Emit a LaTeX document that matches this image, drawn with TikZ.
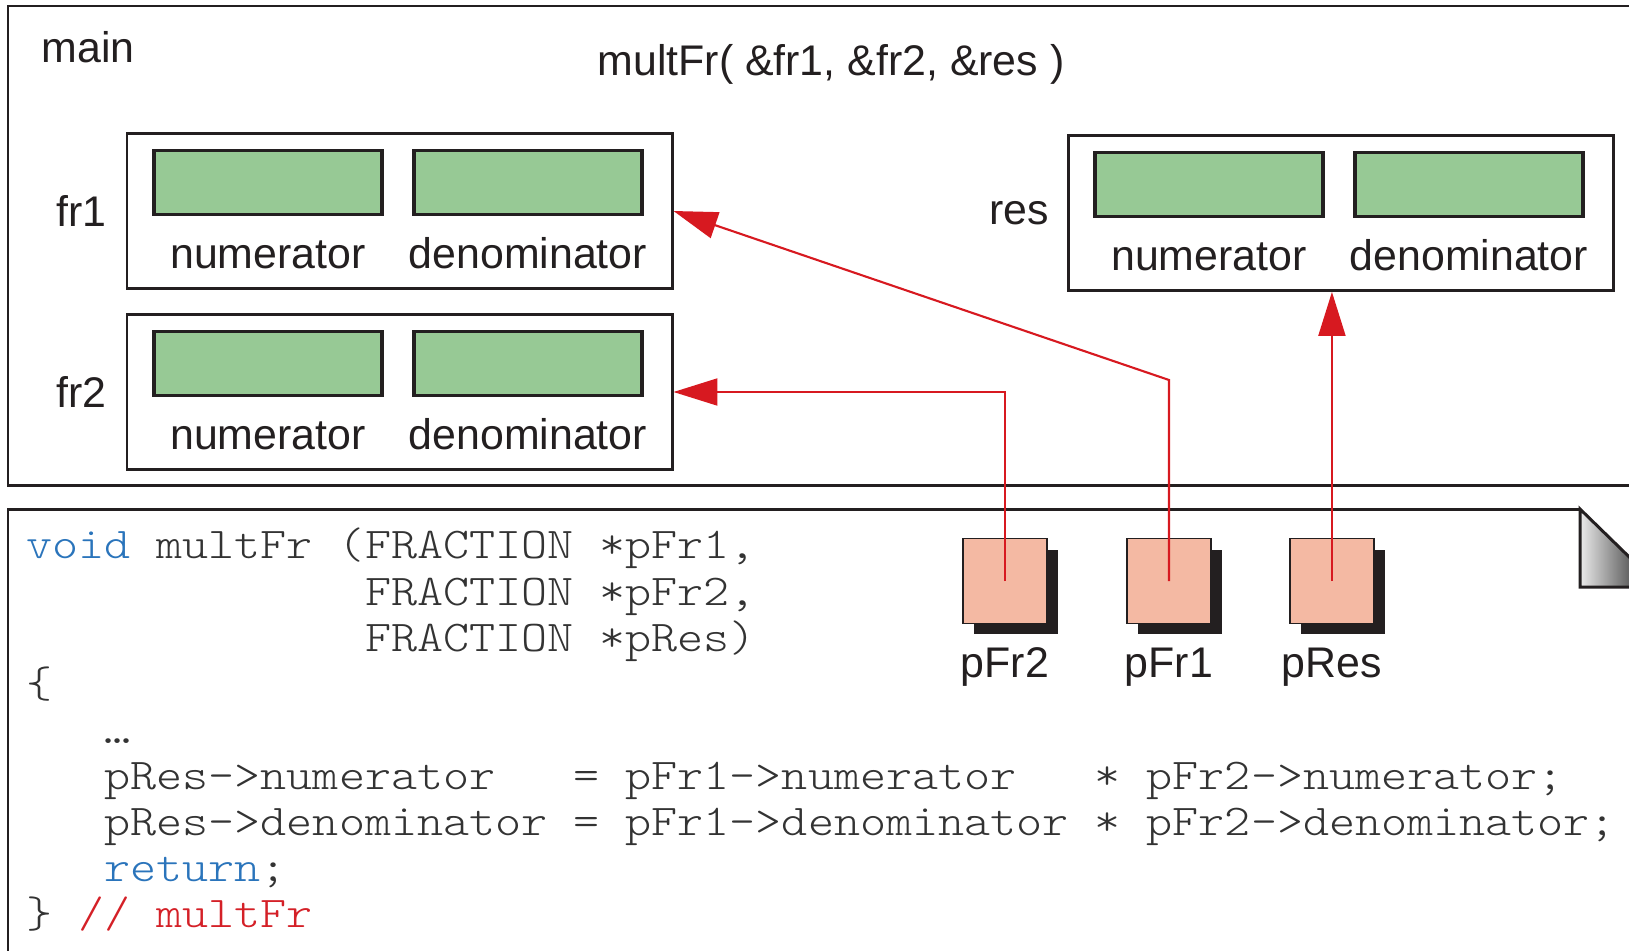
\documentclass[tikz,border=0pt]{standalone}
\usepackage{fontspec}
\newfontfamily\labelfont{Liberation Sans}
\newfontfamily\codefont{lmmonolt10-regular}[Extension=.otf, FakeStretch=1.13]
\usetikzlibrary{matrix,positioning,shadows,arrows.meta}

\definecolor{ink}{HTML}{231F20}
\definecolor{fieldgreen}{HTML}{97C995}
\definecolor{ptrfill}{HTML}{F4B9A3}
\definecolor{linkred}{HTML}{D71920}
\definecolor{codeblue}{HTML}{2A74BB}
\definecolor{codered}{HTML}{D42027}
\definecolor{codegray}{HTML}{333333}

\tikzset{
  lbl/.style={font=\labelfont\fontsize{24.4}{29}\selectfont, text=ink, inner sep=0},
  frbox/.style={draw=ink, line width=1.7pt, inner xsep=0.5cm, inner ysep=0.3cm,
    column sep={5.2cm,between origins}, row sep={1.72cm,between origins}},
  field/.style={draw=ink, fill=fieldgreen, line width=2.2pt,
    minimum width=4.56cm, minimum height=1.28cm, inner sep=0},
  fieldname/.style={lbl, anchor=base, text depth=0.1cm},
  ptr/.style={draw=ink, fill=ptrfill, line width=1.1pt,
    minimum width=1.68cm, minimum height=1.7cm, inner sep=0,
    drop shadow={shadow xshift=0.22cm, shadow yshift=-0.22cm, opacity=1, fill=ink}},
  link/.style={draw=linkred, line width=1.2pt, -{Triangle[length=0.88cm,width=0.54cm]}},
}

\begin{document}
\begin{tikzpicture}[x=0.02cm, y=-0.02cm]
  \useasboundingbox (0,0) rectangle (1629,950);
  \clip (0,0) rectangle (1629,950);

  % frame of main
  \draw [ink, line width=1.7pt] (8,6) rectangle (1680,485);
  \node [lbl] (mainlbl) at (88,47) {main};
  \node [lbl] (call) at (831,64) {multFr( \&fr1, \&fr2, \&res )};

  \matrix (fr1) [frbox] at (399.5,211)
  {
    \node [field] (fr1n) {}; & \node [field] (fr1d) {}; \\
    \node [fieldname] {numerator}; & \node [fieldname] {denominator}; \\
  };
  \matrix (fr2) [frbox] at (399.5,392)
  {
    \node [field] (fr2n) {}; & \node [field] (fr2d) {}; \\
    \node [fieldname] {numerator}; & \node [fieldname] {denominator}; \\
  };
  \matrix (res) [frbox] at (1340.5,213)
  {
    \node [field] (resn) {}; & \node [field] (resd) {}; \\
    \node [fieldname] {numerator}; & \node [fieldname] {denominator}; \\
  };
  \node [lbl,left=0.38cm of fr1] (fr1lbl) {fr1};
  \node [lbl,left=0.38cm of fr2] (fr2lbl) {fr2};
  \node [lbl,left=0.34cm of res] (reslbl) {res};

  % frame of multFr, with the folded corner
  \draw [ink, line width=1.7pt] (8,990) -- (8,509) -- (1580,509);
  \shadedraw [left color=black!8, right color=black!95, draw=ink, line width=1.7pt]
    (1580,509) -- (1580,587) -- (1660,587) -- cycle;

  \matrix (code) [matrix of nodes, anchor=north west, inner sep=0,
    nodes={anchor=base west, inner sep=0, text=codegray,
      font=\codefont\fontsize{25}{29}\selectfont},
    row sep={0.922cm,between origins}] at (26,528)
  {
    \textcolor{codeblue}{void} multFr (FRACTION *pFr1, \\
    \hphantom{void multFr (}FRACTION *pFr2, \\
    \hphantom{void multFr (}FRACTION *pRes) \\
    \{ \\
    \hphantom{xxx}… \\
    \hphantom{xxx}pRes->numerator\hphantom{xx} = pFr1->numerator\hphantom{xx} * pFr2->numerator; \\
    \hphantom{xxx}pRes->denominator = pFr1->denominator * pFr2->denominator; \\
    \hphantom{xxx}\textcolor{codeblue}{return}; \\
    \} \textcolor{codered}{// multFr} \\
  };

  \node [ptr] (pfr2) at (1005,581) {};
  \node [ptr,on grid,right=3.28cm of pfr2] (pfr1) {};
  \node [ptr,on grid,right=3.26cm of pfr1] (pres) {};
  \node [lbl,below=1.06cm of pfr2,anchor=base] (pfr2lbl) {pFr2};
  \node [lbl,below=1.06cm of pfr1,anchor=base] (pfr1lbl) {pFr1};
  \node [lbl,below=1.06cm of pres,anchor=base] (preslbl) {pRes};

  \coordinate (bend) at (1169,380);
  \draw [link] (pfr2.center) |- (fr2.east);
  \draw [link] (pfr1.center) -- (bend) -- (fr1.east);
  \draw [link] (pres.center) -- (pres.center |- res.south);
\end{tikzpicture}
\end{document}
